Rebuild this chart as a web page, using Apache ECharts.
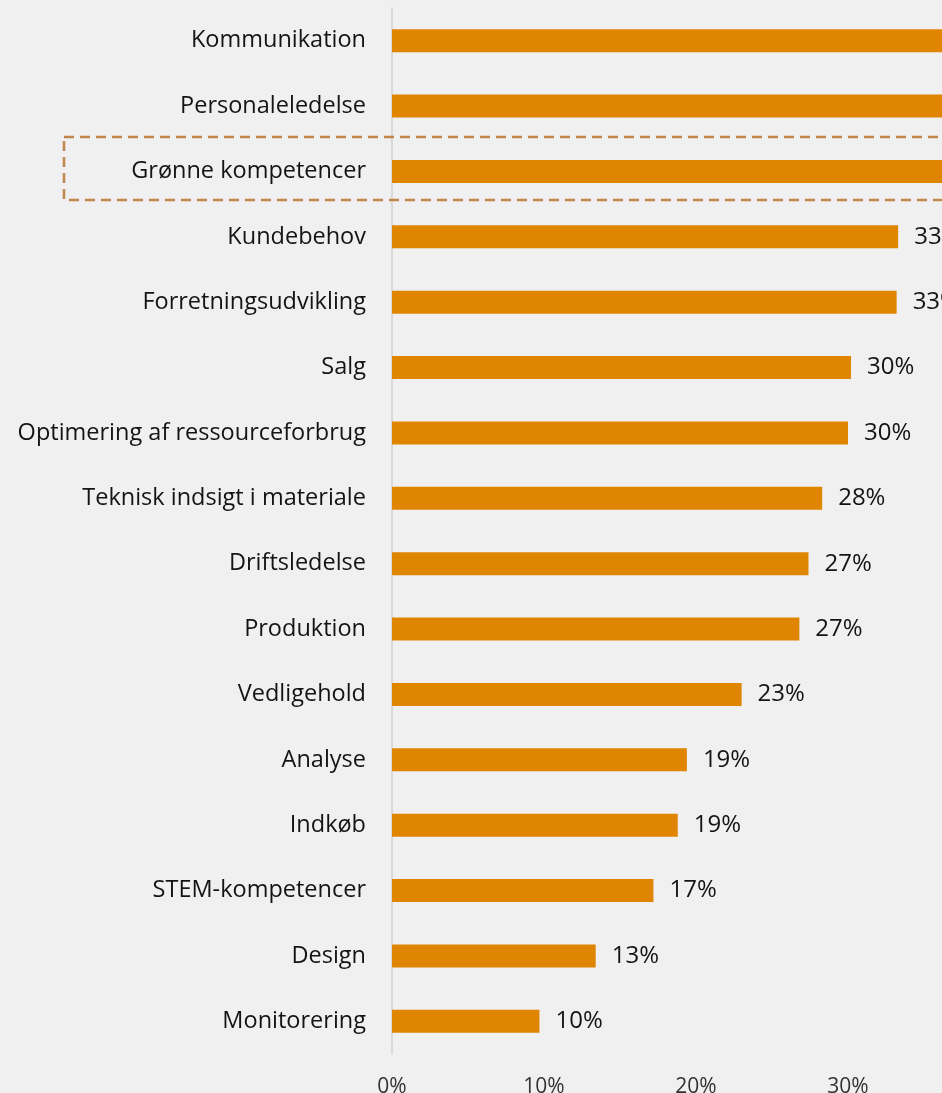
<!DOCTYPE html>
<html>
<head>
<meta charset="utf-8">
<script src="https://cdn.jsdelivr.net/npm/echarts@6/dist/echarts.min.js"></script>
<style>
  html, body { margin: 0; padding: 0; background: #f0f0f0; }
  #chart { width: 942px; height: 1093px; }
</style>
</head>
<body>
<div id="chart"></div>
<script>
// Competence areas, listed top to bottom
const categories = [
  'Kommunikation', 'Personaleledelse', 'Grønne kompetencer', 'Kundebehov',
  'Forretningsudvikling', 'Salg', 'Optimering af ressourceforbrug',
  'Teknisk indsigt i materiale', 'Driftsledelse', 'Produktion', 'Vedligehold',
  'Analyse', 'Indkøb', 'STEM-kompetencer', 'Design', 'Monitorering'
];
// Share of respondents (%)
const shares = [46, 42, 38, 33.3, 33.2, 30.2, 30.0, 28.3, 27.4, 26.8, 23.0, 19.4, 18.8, 17.2, 13.4, 9.7];
// Category to outline with a dashed frame
const highlighted = 'Grønne kompetencer';

const FONT = 'Open Sans';
const TEXT = '#141414';
const chart = echarts.init(document.getElementById('chart'));

chart.setOption({
  backgroundColor: '#f0f0f0',
  animation: false,
  // the value axis runs on past the right edge of the page
  grid: {
    left: 392, width: 912, top: 8, bottom: 39,
    containLabel: false, outerBoundsMode: 'none'
  },
  xAxis: {
    type: 'value',
    min: 0,
    max: 60,
    interval: 10,
    axisLine: { show: false },
    axisTick: { show: false },
    splitLine: { show: false },
    axisLabel: {
      formatter: v => v + '%',
      fontFamily: FONT,
      fontSize: 21,
      color: '#333333',
      margin: 23
    }
  },
  yAxis: {
    type: 'category',
    inverse: true,
    data: categories,
    axisLine: { show: true, lineStyle: { color: '#d2d2d2', width: 1.5 } },
    axisTick: { show: false },
    axisLabel: {
      fontFamily: FONT,
      fontSize: 23.5,
      color: TEXT,
      margin: 26
    }
  },
  series: [{
    type: 'bar',
    data: shares,
    barWidth: 23,
    itemStyle: { color: '#e08500' },
    label: {
      show: true,
      position: 'right',
      distance: 16,
      formatter: p => Math.round(p.value) + '%',
      fontFamily: FONT,
      fontSize: 24,
      color: TEXT
    }
  }]
});

// Dashed frame around the highlighted row, placed from the category axis
const rowY = chart.convertToPixel({ yAxisIndex: 0 }, highlighted);
chart.setOption({
  graphic: [{
    type: 'rect',
    shape: { x: 64, y: rowY - 34.5, width: 1000, height: 63 },
    style: {
      fill: 'none',
      stroke: '#c0864a',
      lineWidth: 2.5,
      lineDash: [10, 6]
    },
    silent: true,
    z: 10
  }]
});
</script>
</body>
</html>
